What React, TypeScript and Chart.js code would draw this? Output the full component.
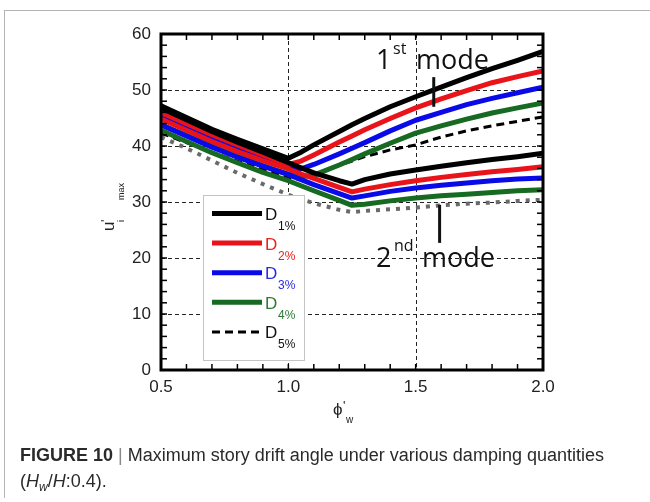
import React, { useEffect, useRef } from "react";
import { Chart, registerables } from "chart.js";

Chart.register(...registerables);

// ---------- data ----------
const phi = [0.5, 0.6, 0.7, 0.8, 0.9, 1.0, 1.05, 1.1, 1.2, 1.25, 1.3, 1.4, 1.5, 1.6, 1.7, 1.8, 1.9, 2.0];

const d1First = [47.2, 45.1, 43.0, 41.2, 39.5, 37.8, 38.9, 40.2, 42.6, 43.8, 44.9, 47.0, 48.8, 50.5, 52.2, 53.8, 55.3, 56.9];
const d1Second = [46.8, 44.7, 42.6, 40.7, 38.9, 37.0, 36.1, 35.2, 33.8, 33.2, 34.0, 35.0, 35.7, 36.4, 37.0, 37.6, 38.1, 38.7];
const d2First = [46.0, 44.0, 42.0, 40.2, 38.4, 36.7, 37.3, 38.4, 40.7, 41.8, 42.9, 44.9, 46.8, 48.4, 49.9, 51.3, 52.4, 53.4];
const d2Second = [44.8, 42.8, 40.8, 39.0, 37.4, 35.9, 35.0, 34.2, 32.6, 31.8, 32.3, 33.1, 33.8, 34.4, 34.9, 35.4, 35.8, 36.3];
const d3First = [45.2, 43.2, 41.2, 39.4, 37.7, 36.1, 35.9, 36.7, 38.6, 39.6, 40.6, 42.7, 44.6, 46.0, 47.4, 48.5, 49.5, 50.5];
const d3Second = [43.8, 41.8, 39.8, 38.0, 36.4, 34.9, 34.0, 33.1, 31.5, 30.7, 31.1, 31.9, 32.5, 33.0, 33.4, 33.8, 34.1, 34.3];
const d4First = [43.8, 41.9, 40.0, 38.2, 36.5, 35.0, 34.5, 34.8, 36.6, 37.6, 38.6, 40.5, 42.3, 43.6, 44.8, 45.9, 46.8, 47.7];
const d4Second = [42.8, 40.8, 38.8, 37.0, 35.3, 33.8, 32.9, 32.0, 30.3, 29.4, 29.6, 30.2, 30.7, 31.1, 31.4, 31.7, 32.0, 32.2];
const d5First = [42.3, 40.6, 38.9, 37.3, 35.8, 34.4, 34.0, 34.6, 36.6, 37.3, 38.1, 39.3, 40.2, 41.6, 42.7, 43.6, 44.4, 45.2];
const d5Second = [41.6, 39.6, 37.4, 35.2, 33.2, 31.3, 30.5, 29.8, 28.6, 28.2, 28.4, 28.7, 29.0, 29.4, 29.7, 29.9, 30.2, 30.4];

const dampingLabels = ["1%", "2%", "3%", "4%", "5%"];
const yGridValues = [10, 20, 30, 40, 50];
const xGridValues = [1.0, 1.5];
const yMinorStep = 2;
const xMinorStep = 0.1;

// ---------- styles ----------
const lineColors = ["#000000", "#e8141a", "#0a0ae8", "#166a22", "#000000"];
const textColors = ["#111111", "#e82020", "#2a2ae0", "#2c7a34", "#111111"];
const SANS = "'Liberation Sans', Arial, sans-serif";
const ANNO = "'Open Sans', 'Noto Sans', sans-serif";

const toPts = (ys: number[]) => phi.map((x, i) => ({ x, y: ys[i] }));

const solid = (label: string, ys: number[], color: string) => ({
  label,
  data: toPts(ys),
  borderColor: color,
  backgroundColor: color,
  borderWidth: 5,
  pointRadius: 0,
  tension: 0,
  fill: false,
  borderJoinStyle: "round" as const,
});

const customPlugin = {
  id: "customDraw",
  beforeDatasetsDraw(chart: any) {
    const { ctx, chartArea: a, scales } = chart;
    const xs = scales.x, ys = scales.y;
    ctx.save();
    ctx.strokeStyle = "#222";
    ctx.lineWidth = 1;
    ctx.setLineDash([4, 3]);
    for (const v of yGridValues) {
      const py = Math.round(ys.getPixelForValue(v)) + 0.5;
      ctx.beginPath(); ctx.moveTo(a.left, py); ctx.lineTo(a.right, py); ctx.stroke();
    }
    for (const v of xGridValues) {
      const px = Math.round(xs.getPixelForValue(v)) + 0.5;
      ctx.beginPath(); ctx.moveTo(px, a.top); ctx.lineTo(px, a.bottom); ctx.stroke();
    }
    ctx.restore();
  },
  afterDatasetsDraw(chart: any) {
    const { ctx, chartArea: a, scales } = chart;
    const xs = scales.x, ys = scales.y;
    const seg = (x1: number, y1: number, x2: number, y2: number) => {
      ctx.beginPath(); ctx.moveTo(x1, y1); ctx.lineTo(x2, y2); ctx.stroke();
    };
    ctx.save();
    ctx.setLineDash([]);
    ctx.strokeStyle = "#000";
    // minor ticks (inward)
    ctx.lineWidth = 1.5;
    for (let v = ys.min; v <= ys.max + 1e-9; v += yMinorStep) {
      const py = ys.getPixelForValue(v);
      seg(a.left, py, a.left + 6, py);
      seg(a.right - 6, py, a.right, py);
    }
    for (let v = xs.min; v <= xs.max + 1e-9; v += xMinorStep) {
      const px = xs.getPixelForValue(v);
      seg(px, a.top, px, a.top + 6);
      seg(px, a.bottom - 6, px, a.bottom);
    }
    // frame
    ctx.lineWidth = 3;
    ctx.strokeRect(a.left, a.top, a.right - a.left, a.bottom - a.top);

    // legend box
    const lx = 203, ly = 195, lw = 101, lh = 165;
    ctx.fillStyle = "#fff";
    ctx.fillRect(lx, ly, lw, lh);
    ctx.strokeStyle = "#c4c4c4";
    ctx.lineWidth = 1;
    ctx.strokeRect(lx + 0.5, ly + 0.5, lw, lh);
    for (let i = 0; i < dampingLabels.length; i++) {
      const cy = 213.5 + i * 29.6;
      ctx.strokeStyle = lineColors[i];
      if (i === 4) {
        ctx.lineWidth = 3;
        ctx.setLineDash([8, 5]);
      } else {
        ctx.lineWidth = 5;
        ctx.setLineDash([]);
      }
      seg(212, cy, 262, cy);
      ctx.setLineDash([]);
      ctx.fillStyle = textColors[i];
      ctx.textBaseline = "alphabetic";
      ctx.textAlign = "left";
      ctx.font = `17px ${SANS}`;
      ctx.fillText("D", 265, cy + 6.5);
      ctx.font = `12px ${SANS}`;
      ctx.fillText(dampingLabels[i], 278, cy + 16.5);
    }

    // annotations
    ctx.fillStyle = "#111";
    ctx.strokeStyle = "#111";
    ctx.font = `27px ${ANNO}`;
    ctx.fillText("1", 376, 69);
    ctx.fillText("mode", 416, 69);
    ctx.font = `16px ${ANNO}`;
    ctx.fillText("st", 393, 54);
    ctx.font = `27px ${ANNO}`;
    ctx.fillText("2", 376, 267);
    ctx.fillText("mode", 422, 267);
    ctx.font = `16px ${ANNO}`;
    ctx.fillText("nd", 394, 251);
    ctx.lineWidth = 3;
    const p1 = xs.getPixelForValue(1.571);
    seg(p1, ys.getPixelForValue(52.3), p1, ys.getPixelForValue(47.0));
    const p2 = xs.getPixelForValue(1.594);
    seg(p2, ys.getPixelForValue(29.5), p2, ys.getPixelForValue(22.7));

    // x axis title
    ctx.fillStyle = "#222";
    ctx.font = `17px ${SANS}`;
    ctx.fillText("\u03D5", 333, 415);
    ctx.font = `13px ${SANS}`;
    ctx.fillText("'", 343, 410);
    ctx.font = `10px ${SANS}`;
    ctx.fillText("w", 346, 423);

    // y axis title (rotated)
    ctx.save();
    ctx.translate(114, 231);
    ctx.rotate(-Math.PI / 2);
    ctx.font = `17px ${SANS}`;
    ctx.fillText("u", 0, 0);
    ctx.font = `13px ${SANS}`;
    ctx.fillText("'", 9, -4);
    ctx.font = `9px ${SANS}`;
    ctx.fillText("i", 9, 10);
    ctx.font = `9px ${SANS}`;
    ctx.fillText("max", 31, 10);
    ctx.restore();

    ctx.restore();
  },
};

export default function App() {
  const ref = useRef<HTMLCanvasElement>(null);
  useEffect(() => {
    const canvas = ref.current;
    if (!canvas) return;
    const chart = new Chart(canvas, {
      type: "line",
      data: {
        datasets: [
          solid("D1% 1st", d1First, lineColors[0]),
          solid("D1% 2nd", d1Second, lineColors[0]),
          solid("D2% 1st", d2First, lineColors[1]),
          solid("D2% 2nd", d2Second, lineColors[1]),
          solid("D3% 1st", d3First, lineColors[2]),
          solid("D3% 2nd", d3Second, lineColors[2]),
          solid("D4% 1st", d4First, lineColors[3]),
          solid("D4% 2nd", d4Second, lineColors[3]),
          {
            label: "D5% 1st",
            data: toPts(d5First),
            borderColor: "#000",
            borderWidth: 3,
            borderDash: [8, 5],
            pointRadius: 0,
            tension: 0,
            fill: false,
          },
          {
            label: "D5% 2nd",
            data: toPts(d5Second),
            borderColor: "#6a6a6a",
            borderWidth: 4,
            borderDash: [4, 6],
            pointRadius: 0,
            tension: 0,
            fill: false,
          },
        ],
      },
      options: {
        responsive: false,
        maintainAspectRatio: false,
        animation: false,
        devicePixelRatio: 1,
        layout: { padding: { left: 0, top: 34, right: 107, bottom: 92 } },
        plugins: { legend: { display: false }, tooltip: { enabled: false } },
        scales: {
          x: {
            type: "linear",
            min: 0.5,
            max: 2.0,
            grid: { display: false, drawTicks: false },
            border: { display: false },
            ticks: {
              stepSize: 0.5,
              padding: 7,
              color: "#222",
              maxRotation: 0,
              autoSkip: false,
              font: { family: SANS, size: 17 },
              callback: (v: any) => Number(v).toFixed(1),
            },
            afterFit: (s: any) => { s.height = 40; },
          },
          y: {
            type: "linear",
            min: 0,
            max: 60,
            grid: { display: false, drawTicks: false },
            border: { display: false },
            ticks: {
              stepSize: 10,
              padding: 10,
              color: "#222",
              font: { family: SANS, size: 17 },
            },
            afterFit: (s: any) => { s.width = 161; },
          },
        },
      },
      plugins: [customPlugin],
    });
    return () => chart.destroy();
  }, []);

  return (
    <div style={{ position: "absolute", left: 0, top: 0, width: 650, height: 502, background: "#fff", overflow: "hidden" }}>
      <div style={{ position: "absolute", left: 4, top: 10, width: 660, height: 487, borderLeft: "1.5px solid #b4b4b4", borderTop: "1.5px solid #b4b4b4" }} />
      <canvas ref={ref} width={650} height={502} style={{ position: "absolute", left: 0, top: 0, width: 650, height: 502 }} />
      <div style={{ position: "absolute", left: 20, top: 442, font: `18px ${SANS}`, color: "#2a2a2a", lineHeight: "26px", whiteSpace: "nowrap" }}>
        <div>
          <b>FIGURE 10</b> <span style={{ color: "#888" }}>|</span> Maximum story drift angle under various damping quantities
        </div>
        <div>
          (<i>H</i><i style={{ fontSize: 12, position: "relative", top: 4 }}>w</i>/<i>H</i>:0.4).
        </div>
      </div>
    </div>
  );
}
